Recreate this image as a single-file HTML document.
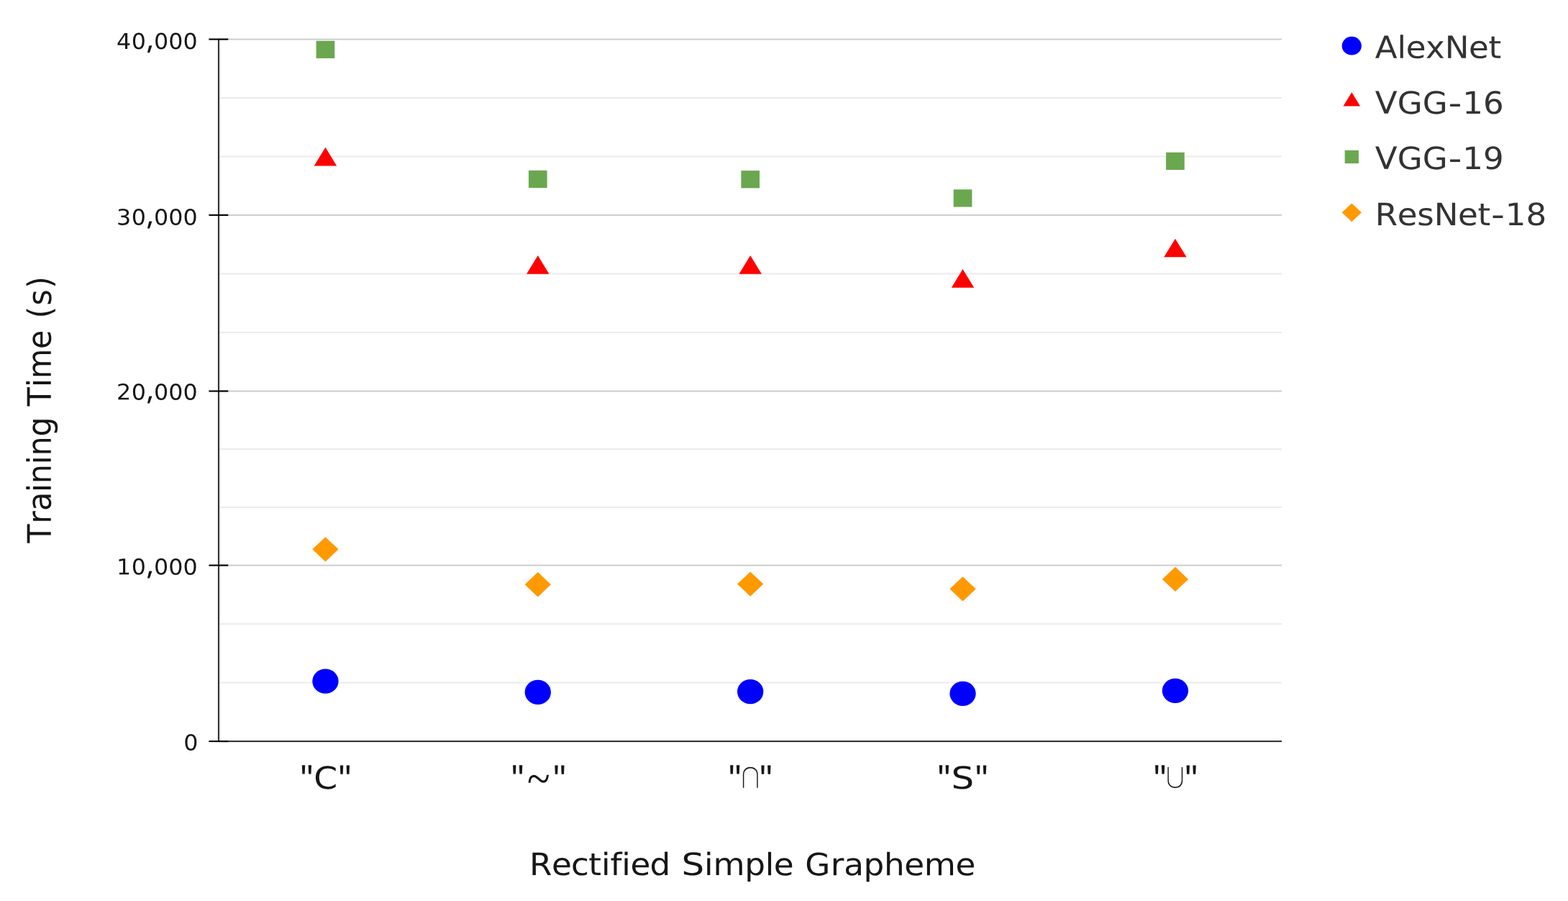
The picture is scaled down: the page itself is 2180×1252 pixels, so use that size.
<!DOCTYPE html>
<html lang="en"><head><meta charset="utf-8"><title>Training Time by Rectified Simple Grapheme</title>
<style>
html,body{margin:0;padding:0;background:#fff;}
body{width:2180px;height:1252px;overflow:hidden;}
svg{display:block;}
text{font-kerning:none;font-variant-ligatures:none;font-feature-settings:"liga" 0,"clig" 0,"kern" 0;white-space:pre;font-family:"DejaVu Sans","Liberation Sans",sans-serif;}
.lib{font-family:"Liberation Sans","DejaVu Sans",sans-serif;}
.nan{font-family:"NanumGothic","DejaVu Sans","Liberation Sans",sans-serif;}
.lse{font-family:"Liberation Serif","DejaVu Sans",serif;}
</style></head><body>
<svg xmlns="http://www.w3.org/2000/svg" width="2180" height="1252" viewBox="0 0 2180 1252" role="img" aria-label="Scatter chart of training time in seconds per rectified simple grapheme for AlexNet, VGG-16, VGG-19 and ResNet-18">
<rect x="0" y="0" width="2180" height="1252" fill="#ffffff"/>

<g id="grid">
<rect x="304.0" y="135.00" width="1478.05" height="2" fill="#ebebeb"/>
<rect x="304.0" y="216.43" width="1478.05" height="2" fill="#ebebeb"/>
<rect x="304.0" y="379.41" width="1478.05" height="2" fill="#ebebeb"/>
<rect x="304.0" y="460.95" width="1478.05" height="2" fill="#ebebeb"/>
<rect x="304.0" y="623.19" width="1478.05" height="2" fill="#ebebeb"/>
<rect x="304.0" y="703.88" width="1478.05" height="2" fill="#ebebeb"/>
<rect x="304.0" y="866.08" width="1478.05" height="2" fill="#ebebeb"/>
<rect x="304.0" y="947.59" width="1478.05" height="2" fill="#ebebeb"/>
<rect x="304.0" y="53.57" width="1478.05" height="2" fill="#cccccc"/>
<rect x="304.0" y="297.86" width="1478.05" height="2" fill="#cccccc"/>
<rect x="304.0" y="542.50" width="1478.05" height="2" fill="#cccccc"/>
<rect x="304.0" y="784.57" width="1478.05" height="2" fill="#cccccc"/>
</g>
<g id="axes">
<rect x="302.9" y="54.57" width="2.2" height="975.53" fill="#333333"/>
<rect x="304.0" y="1029.05" width="1478.05" height="2.1" fill="#333333"/>
<rect x="290.4" y="53.52" width="26.9" height="2.1" fill="#000000"/>
<rect x="290.4" y="297.81" width="26.9" height="2.1" fill="#000000"/>
<rect x="290.4" y="542.45" width="26.9" height="2.1" fill="#000000"/>
<rect x="290.4" y="784.52" width="26.9" height="2.1" fill="#000000"/>
<rect x="290.4" y="1029.05" width="26.9" height="2.1" fill="#000000"/>
</g>
<g id="ylabels">
<text transform="translate(0 67.924) matrix(1 0.0007 0 1 0 0) scale(1.0492 1)" font-size="30.3" fill="#161616" aria-label="40,000"><tspan x="154.37 174.3" y="0">40</tspan><tspan class="nan" x="192.06" y="-1.83" font-size="47.83" textLength="13.130" lengthAdjust="spacingAndGlyphs">,</tspan><tspan x="203.92 223.18 242.45" y="0">000</tspan></text>
<text transform="translate(0 312.264) matrix(1 0.0007 0 1 0 0) scale(1.0492 1)" font-size="30.3" fill="#161616" aria-label="30,000"><tspan x="154.37 174.3" y="0">30</tspan><tspan class="nan" x="192.06" y="-1.83" font-size="47.83" textLength="13.130" lengthAdjust="spacingAndGlyphs">,</tspan><tspan x="203.92 223.18 242.45" y="0">000</tspan></text>
<text transform="translate(0 555.254) matrix(1 0.0007 0 1 0 0) scale(1.0492 1)" font-size="30.3" fill="#161616" aria-label="20,000"><tspan x="154.37 174.3" y="0">20</tspan><tspan class="nan" x="192.06" y="-1.83" font-size="47.83" textLength="13.130" lengthAdjust="spacingAndGlyphs">,</tspan><tspan x="203.92 223.18 242.45" y="0">000</tspan></text>
<text transform="translate(0 798.224) matrix(1 0.0007 0 1 0 0) scale(1.0492 1)" font-size="30.3" fill="#161616" aria-label="10,000"><tspan x="154.37 174.3" y="0">10</tspan><tspan class="nan" x="192.06" y="-1.83" font-size="47.83" textLength="13.130" lengthAdjust="spacingAndGlyphs">,</tspan><tspan x="203.92 223.18 242.45" y="0">000</tspan></text>
<text transform="translate(0 1042.421) matrix(1 0.0007 0 1 0 0) scale(1.0492 1)" x="243.26" y="0" font-size="30.3" fill="#161616">0</text>
</g>
<g id="xlabels">
<text transform="translate(0 1095.691) matrix(1 0.0007 0 1 0 0) scale(1.0593 1)" font-size="42.88" fill="#161616" aria-label='"C"'><tspan class="lib" x="394.37" y="6.1" font-size="56.4" textLength="16.382" lengthAdjust="spacingAndGlyphs">"</tspan><tspan x="411.95" y="0" textLength="31.135" lengthAdjust="spacingAndGlyphs">C</tspan><tspan class="lib" x="444.36" y="6.1" font-size="56.4" textLength="16.382" lengthAdjust="spacingAndGlyphs">"</tspan></text>
<text transform="translate(0 1095.484) matrix(1 0.0007 0 1 0 0) scale(1.0593 1)" font-size="42.88" fill="#161616" aria-label='"~"'><tspan class="lib" x="671.14" y="6.1" font-size="56.4" textLength="16.382" lengthAdjust="spacingAndGlyphs">"</tspan><tspan class="lse" x="691.96" y="7.73" font-size="65.49" textLength="29.946" lengthAdjust="spacingAndGlyphs">~</tspan><tspan class="lib" x="726.28" y="6.1" font-size="56.4" textLength="16.382" lengthAdjust="spacingAndGlyphs">"</tspan></text>
<text transform="translate(0 1095.277) matrix(1 0.0007 0 1 0 0) scale(1.0593 1)" font-size="42.88" fill="#161616" aria-label='"∩"'><tspan class="lib" x="956.2" y="6.1" font-size="56.4" textLength="16.382" lengthAdjust="spacingAndGlyphs">"</tspan><tspan class="nan" x="973.21" y="-0.49" font-size="41.55" textLength="23.233" lengthAdjust="spacingAndGlyphs">∩</tspan><tspan class="lib" x="997.08" y="6.1" font-size="56.4" textLength="16.382" lengthAdjust="spacingAndGlyphs">"</tspan></text>
<text transform="translate(0 1095.071) matrix(1 0.0007 0 1 0 0) scale(1.0593 1)" font-size="42.88" fill="#161616" aria-label='"S"'><tspan class="lib" x="1230.83" y="6.1" font-size="56.4" textLength="16.382" lengthAdjust="spacingAndGlyphs">"</tspan><tspan x="1248.49" y="0" textLength="29.937" lengthAdjust="spacingAndGlyphs">S</tspan><tspan class="lib" x="1280.19" y="6.1" font-size="56.4" textLength="16.382" lengthAdjust="spacingAndGlyphs">"</tspan></text>
<text transform="translate(0 1094.863) matrix(1 0.0007 0 1 0 0) scale(1.0593 1)" font-size="42.88" fill="#161616" aria-label='"∪"'><tspan class="lib" x="1514.32" y="6.1" font-size="56.4" textLength="16.382" lengthAdjust="spacingAndGlyphs">"</tspan><tspan class="nan" x="1530.77" y="-1.61" font-size="41.55" textLength="23.233" lengthAdjust="spacingAndGlyphs">∪</tspan><tspan class="lib" x="1555.2" y="6.1" font-size="56.4" textLength="16.382" lengthAdjust="spacingAndGlyphs">"</tspan></text>
</g>
<g id="titles">
<text transform="translate(0 1215.391) matrix(1 0.0007 0 1 0 0) scale(1.0572 1)" font-size="42.88" fill="#161616" aria-label="Rectified Simple Grapheme"><tspan x="696.22 725.6 750.94 773.94 790.72 802.55 817.56 828.98 854.69 882.37" y="0">Rectified </tspan><tspan x="896.17" y="0" textLength="29.937" lengthAdjust="spacingAndGlyphs">S</tspan><tspan x="925.96 937.77 979.25 1006.14 1017.56 1044.24 1058.61 1092.18 1109.88 1135.64 1162.58 1189.31 1215.24 1256.56" y="0">imple Grapheme</tspan></text>
<text transform="translate(70.8 754.5) rotate(-90) matrix(1 0.0007 0 1 0 0) translate(0 -0.130) scale(1 1.0593)" x="0.12 26.76 44.46 70.39 82.21 109.29 121.11 148.01 175.7 190.16 216.4 228.2 269.52 296.2 311.92 330.02 353.73" y="0" font-size="42.88" fill="#161616">Training Time (s)</text>
</g>
<g id="series">
<g id="vgg19" fill="#6aa84f">
<rect x="439.58" y="56.76" width="25.69" height="24.25"/>
<rect x="734.95" y="236.82" width="25.69" height="24.25"/>
<rect x="1030.35" y="237.12" width="25.69" height="24.25"/>
<rect x="1325.70" y="263.27" width="25.69" height="24.25"/>
<rect x="1621.10" y="211.77" width="25.69" height="24.25"/>
</g><g id="vgg16" fill="#ff0000">
<path d="M452.43,204.74 L468.16,230.46 L436.70,230.46 Z"/>
<path d="M747.80,355.11 L763.53,380.84 L732.07,380.84 Z"/>
<path d="M1043.20,355.11 L1058.93,380.84 L1027.47,380.84 Z"/>
<path d="M1338.55,374.11 L1354.28,399.84 L1322.82,399.84 Z"/>
<path d="M1633.95,331.63 L1649.68,357.36 L1618.22,357.36 Z"/>
</g><g id="resnet18" fill="#ff9900">
<path d="M452.43,746.19 L470.60,763.34 L452.43,780.49 L434.26,763.34 Z"/>
<path d="M747.80,795.10 L765.97,812.25 L747.80,829.40 L729.63,812.25 Z"/>
<path d="M1043.20,794.45 L1061.37,811.60 L1043.20,828.75 L1025.03,811.60 Z"/>
<path d="M1338.55,801.25 L1356.72,818.40 L1338.55,835.55 L1320.38,818.40 Z"/>
<path d="M1633.95,787.75 L1652.12,804.90 L1633.95,822.05 L1615.78,804.90 Z"/>
</g><g id="alexnet" fill="#0000ff">
<ellipse cx="452.43" cy="946.60" rx="18.17" ry="17.15"/>
<ellipse cx="747.80" cy="961.90" rx="18.17" ry="17.15"/>
<ellipse cx="1043.20" cy="961.10" rx="18.17" ry="17.15"/>
<ellipse cx="1338.55" cy="963.80" rx="18.17" ry="17.15"/>
<ellipse cx="1633.95" cy="959.80" rx="18.17" ry="17.15"/>
</g></g>
<g id="legend">
<ellipse cx="1879.3" cy="63.73" rx="13.62" ry="12.86" fill="#0000ff"/>
<path d="M1879.3,128.15 L1891.10,147.48 L1867.50,147.48 Z" fill="#ff0000"/>
<rect x="1869.67" y="208.90" width="19.27" height="18.19" fill="#6aa84f"/>
<path d="M1879.3,282.44 L1892.92,295.3 L1879.3,308.16 L1865.68,295.3 Z" fill="#ff9900"/>
<text transform="translate(0 79.319) matrix(1 0.0007 0 1 0 0) scale(1.0540 1)" x="1813.84 1843.08 1854.5 1880.46 1905.84 1937.49 1963.49" y="0" font-size="42.88" fill="#333333">AlexNet</text>
<text transform="translate(0 156.527) matrix(1 0.0007 0 1 0 0) scale(1.0540 1)" font-size="42.88" fill="#333333" aria-label="VGG-16"><tspan x="1813.84 1843.17 1876.41" y="0">VGG</tspan><tspan x="1910.33" y="0" textLength="18.101" lengthAdjust="spacingAndGlyphs">-</tspan><tspan x="1929.11 1956.36" y="0">16</tspan></text>
<text transform="translate(0 233.527) matrix(1 0.0007 0 1 0 0) scale(1.0540 1)" font-size="42.88" fill="#333333" aria-label="VGG-19"><tspan x="1813.84 1843.17 1876.41" y="0">VGG</tspan><tspan x="1910.33" y="0" textLength="18.101" lengthAdjust="spacingAndGlyphs">-</tspan><tspan x="1929.11 1956.36" y="0">19</tspan></text>
<text transform="translate(0 311.605) matrix(1 0.0007 0 1 0 0) scale(1.0540 1)" font-size="42.88" fill="#333333" aria-label="ResNet-18"><tspan x="1813.86 1843.24 1869.2 1891.54 1923.19 1949.19" y="0">ResNet</tspan><tspan x="1966.73" y="0" textLength="18.101" lengthAdjust="spacingAndGlyphs">-</tspan><tspan x="1985.5 2012.76" y="0">18</tspan></text>
</g>
</svg>
</body></html>
